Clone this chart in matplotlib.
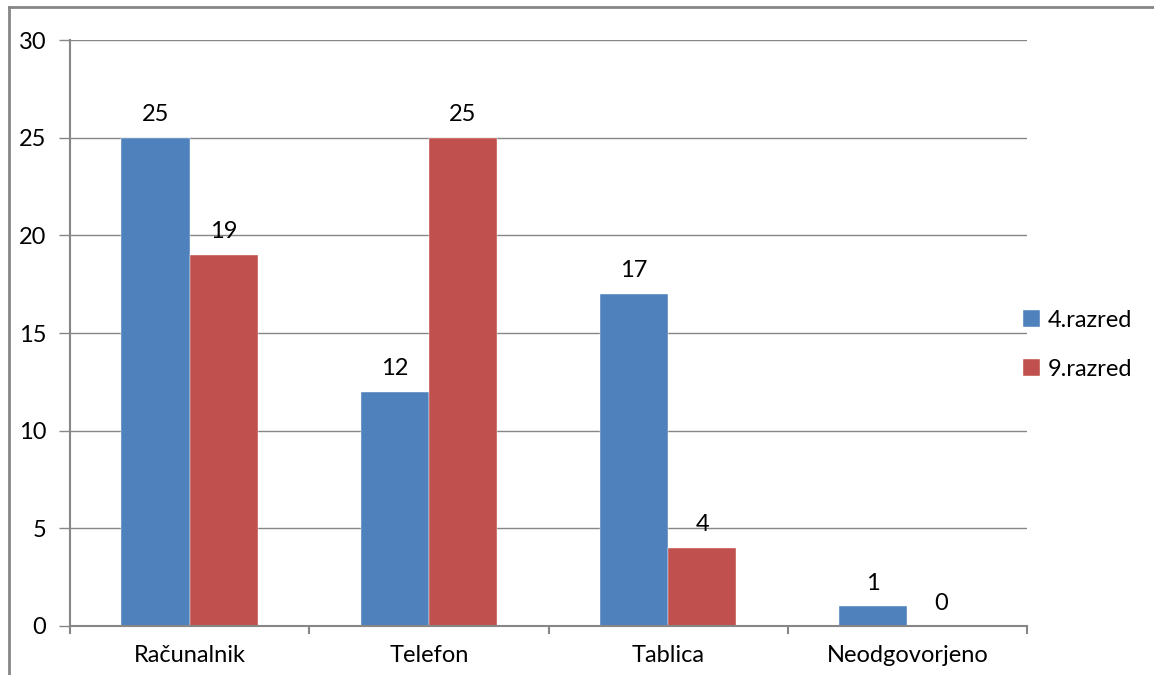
import numpy as np
import matplotlib.pyplot as plt
from matplotlib.lines import Line2D

categories = ["Računalnik", "Telefon", "Tablica", "Neodgovorjeno"]
razred4 = [25, 12, 17, 1]
razred9 = [19, 25, 4, 0]
series_names = ["4.razred", "9.razred"]

plt.rcParams["font.family"] = ["Lato", "DejaVu Sans"]

fig = plt.figure(figsize=(11.54, 6.75), dpi=100)
W, H = 1154, 675
ax = fig.add_axes([70 / W, 1 - 626 / H, (1027 - 70) / W, (626 - 40) / H])
ax.set_axisbelow(True)

grey = "#868686"
blue = "#4F81BD"
red = "#C0504D"
width = 1 / 3.5
fs = 17

x = np.arange(len(categories))
b1 = ax.bar(x - width / 2, razred4, width, color=blue, edgecolor="white", linewidth=0.3,
            label=series_names[0], zorder=2)
b2 = ax.bar(x + width / 2, razred9, width, color=red, edgecolor="white", linewidth=0.3,
            label=series_names[1], zorder=2)

for bars, vals in ((b1, razred4), (b2, razred9)):
    for rect, v in zip(bars, vals):
        ax.annotate(str(v), (rect.get_x() + rect.get_width() / 2, v),
                    xytext=(0, 9), textcoords="offset points",
                    ha="center", va="bottom", fontsize=fs, color="black")

ax.set_xlim(-0.5, len(categories) - 0.5)
ax.set_ylim(0, 30)
ax.set_yticks(range(0, 31, 5))
ax.yaxis.grid(True, color=grey, linewidth=1)
ax.tick_params(axis="y", length=8, width=1, color=grey, pad=9, labelsize=fs)

# category labels in the middle, tick marks on the boundaries
ax.set_xticks(x)
ax.set_xticklabels(categories, fontsize=fs)
ax.tick_params(axis="x", which="major", length=0, pad=14)
ax.set_xticks(np.arange(-0.5, len(categories)), minor=True)
ax.tick_params(axis="x", which="minor", length=6, width=1.5, color=grey, direction="out")

for s in ["top", "right"]:
    ax.spines[s].set_visible(False)
for s in ["left", "bottom"]:
    ax.spines[s].set_color(grey)
    ax.spines[s].set_linewidth(1.5)

ax.legend(loc="center left", bbox_to_anchor=(1014 / 957 - 70 / 957, 0.48),
          frameon=False, fontsize=fs, handlelength=0.7, handleheight=0.7,
          handletextpad=0.35, labelspacing=1.2, borderaxespad=0)

# outer chart frame
fig.add_artist(Line2D([9 / W, 9 / W], [0, 1 - 7 / H], color=grey, linewidth=2))
fig.add_artist(Line2D([9 / W, 1], [1 - 7 / H, 1 - 7 / H], color=grey, linewidth=2))

fig.savefig("out.png", dpi=100)
